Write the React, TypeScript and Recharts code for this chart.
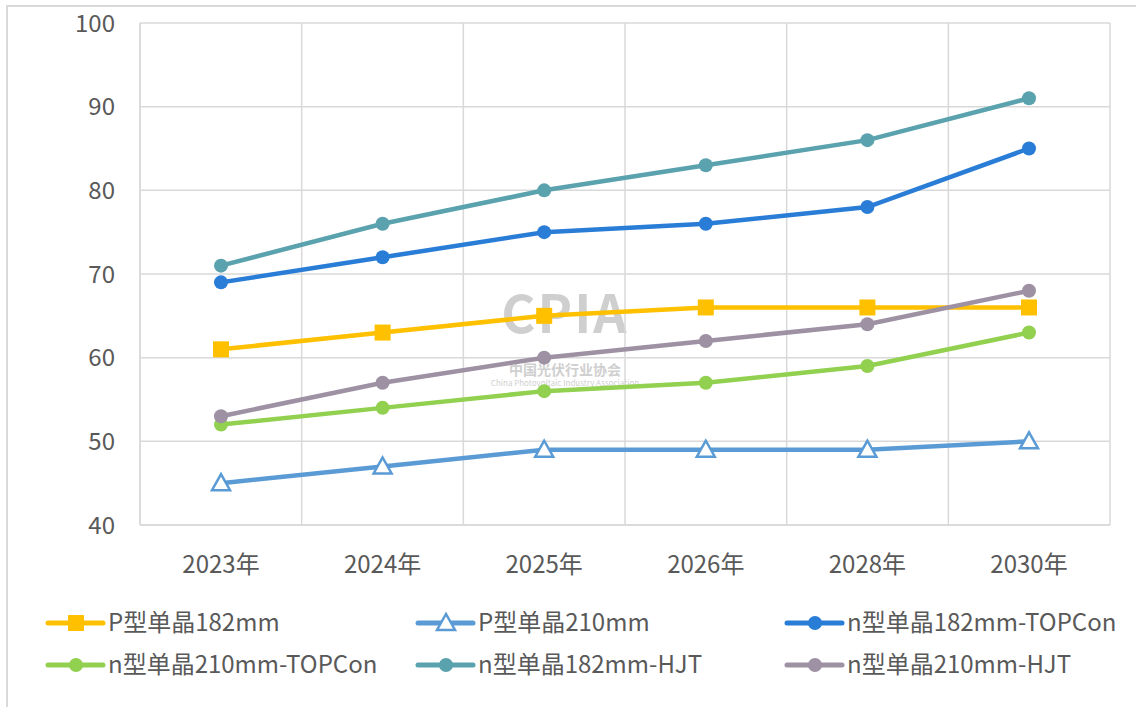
import React from "react";
import { CartesianGrid, Line, LineChart, XAxis, YAxis } from "recharts";

const years = ["2023年", "2024年", "2025年", "2026年", "2028年", "2030年"];
const p182 = [61, 63, 65, 66, 66, 66];
const p210 = [45, 47, 49, 49, 49, 50];
const n182Topcon = [69, 72, 75, 76, 78, 85];
const n210Topcon = [52, 54, 56, 57, 59, 63];
const n182Hjt = [71, 76, 80, 83, 86, 91];
const n210Hjt = [53, 57, 60, 62, 64, 68];
const yTicks = [40, 50, 60, 70, 80, 90, 100];

type Marker = "square" | "triangle" | "circle";

const series: { key: string; name: string; color: string; marker: Marker; values: number[] }[] = [
  { key: "p182", name: "P型单晶182mm", color: "#FFC000", marker: "square", values: p182 },
  { key: "p210", name: "P型单晶210mm", color: "#5B9BD5", marker: "triangle", values: p210 },
  { key: "n182t", name: "n型单晶182mm-TOPCon", color: "#2A7DD6", marker: "circle", values: n182Topcon },
  { key: "n210t", name: "n型单晶210mm-TOPCon", color: "#92D050", marker: "circle", values: n210Topcon },
  { key: "n182h", name: "n型单晶182mm-HJT", color: "#5AA2AD", marker: "circle", values: n182Hjt },
  { key: "n210h", name: "n型单晶210mm-HJT", color: "#9E91A3", marker: "circle", values: n210Hjt },
];

const data = years.map((year, i) => {
  const row: Record<string, string | number> = { year };
  series.forEach((s) => (row[s.key] = s.values[i]));
  return row;
});

const FONT = '"Noto Sans CJK SC", "Noto Sans", sans-serif';
const TEXT = "#595959";
const GRID = "#D9D9D9";

const drawMarker = (marker: Marker, color: string, cx: number, cy: number, key?: string) => {
  if (marker === "square") {
    return <rect key={key} x={cx - 8} y={cy - 8} width={16} height={16} fill={color} />;
  }
  if (marker === "triangle") {
    const pts = `${cx},${cy - 9} ${cx - 9},${cy + 7} ${cx + 9},${cy + 7}`;
    return <polygon key={key} points={pts} fill="#fff" stroke={color} strokeWidth={2.5} strokeLinejoin="miter" />;
  }
  return <circle key={key} cx={cx} cy={cy} r={7} fill={color} />;
};

const legendSlots = [
  { x: 48, y: 623 },
  { x: 418, y: 623 },
  { x: 787, y: 623 },
  { x: 48, y: 665 },
  { x: 418, y: 665 },
  { x: 787, y: 665 },
];

const Legend = () => (
  <svg width={1136} height={707} style={{ position: "absolute", left: 0, top: 0, pointerEvents: "none" }}>
    {series.map((s, i) => {
      const { x, y } = legendSlots[i];
      return (
        <g key={s.key}>
          <line x1={x} y1={y} x2={x + 55} y2={y} stroke={s.color} strokeWidth={5} strokeLinecap="round" />
          {drawMarker(s.marker, s.color, x + 28, y)}
          <text x={x + 60} y={y} dy="0.35em" fill={TEXT} fontSize={24} fontFamily={FONT}>
            {s.name}
          </text>
        </g>
      );
    })}
  </svg>
);

const Watermark = () => (
  <div
    style={{
      position: "absolute",
      left: 460,
      top: 280,
      width: 210,
      textAlign: "center",
      fontFamily: FONT,
      color: "#B0B0B0",
      opacity: 0.6,
      pointerEvents: "none",
    }}
  >
    <div style={{ fontSize: 52, fontWeight: 700, lineHeight: "62px", letterSpacing: 2 }}>CPIA</div>
    <div style={{ fontSize: 14, fontWeight: 700, lineHeight: "18px", marginTop: 18 }}>中国光伏行业协会</div>
    <div style={{ fontSize: 8, lineHeight: "10px" }}>China Photovoltaic Industry Association</div>
  </div>
);

export default function App() {
  return (
    <div style={{ position: "absolute", left: 0, top: 0, width: 1136, height: 707, overflow: "hidden", background: "#fff" }}>
      <div style={{ position: "absolute", left: 6, top: 5, width: 1200, height: 800, border: `2px solid ${GRID}` }} />
      <Watermark />
      <div style={{ position: "absolute", left: 0, top: 0 }}>
        <LineChart width={1136} height={707} data={data} margin={{ top: 23, right: 26, left: 0, bottom: 122 }}>
          <CartesianGrid
            stroke={GRID}
            strokeWidth={1.5}
            verticalCoordinatesGenerator={({ offset }: any) =>
              years.map((_, i) => offset.left + (i * offset.width) / years.length).concat(offset.left + offset.width)
            }
          />
          <XAxis
            dataKey="year"
            padding={{ left: 81, right: 81 }}
            axisLine={{ stroke: GRID, strokeWidth: 1.5 }}
            tickLine={false}
            tickSize={6}
            tickMargin={25}
            height={60}
            tick={{ fill: TEXT, fontSize: 24, fontFamily: FONT }}
          />
          <YAxis
            domain={[40, 100]}
            ticks={yTicks}
            width={140}
            axisLine={{ stroke: GRID, strokeWidth: 1.5 }}
            tickLine={false}
            tickSize={6}
            tickMargin={19}
            tick={{ fill: TEXT, fontSize: 24, fontFamily: FONT }}
          />
          {series.map((s) => (
            <Line
              key={s.key}
              dataKey={s.key}
              name={s.name}
              stroke={s.color}
              strokeWidth={4.5}
              isAnimationActive={false}
              dot={(p: any) => drawMarker(s.marker, s.color, p.cx, p.cy, `${s.key}-${p.index}`)}
              activeDot={false}
            />
          ))}
        </LineChart>
      </div>
      <Legend />
    </div>
  );
}
